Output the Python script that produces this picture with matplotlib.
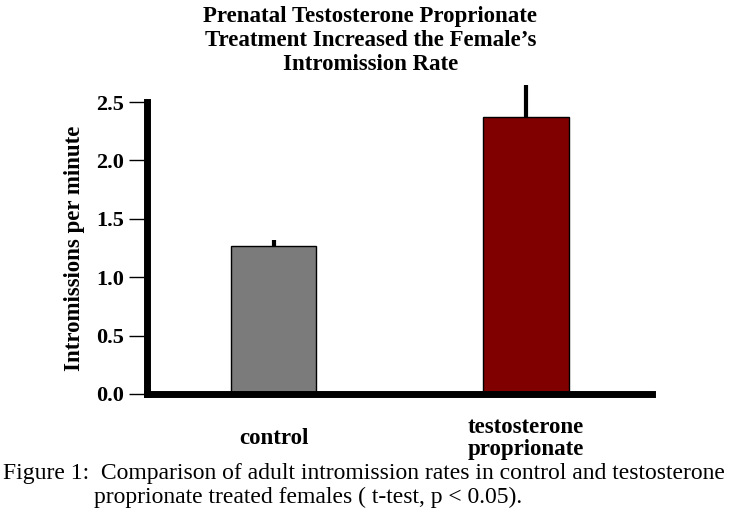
import matplotlib.pyplot as plt
import numpy as np

plt.rcParams['font.family'] = ['Liberation Serif', 'DejaVu Serif']

groups = ["control", "testosterone\nproprionate"]
means = [1.27, 2.37]
sems = [0.05, 0.28]
colors = ["#7b7b7b", "#800000"]
yticks = [0.0, 0.5, 1.0, 1.5, 2.0, 2.5]

fig = plt.figure(figsize=(7.48, 5.14), dpi=100)
ax = fig.add_axes([0.197, 0.2335, 0.675, 0.568])

x = np.arange(len(groups))
ax.bar(x, means, width=0.337, color=colors, edgecolor="black", linewidth=1, zorder=2)
# only the upper half of the error bar is shown
eb = ax.errorbar(x, means, yerr=[np.zeros(len(sems)), sems], fmt="none",
                 ecolor="black", elinewidth=3, capsize=0, zorder=1)
for c in eb.lines[2]:
    c.set_clip_on(False)

ax.set_xlim(-0.5, 1.5)
ax.set_ylim(0, 2.5)
ax.set_yticks(yticks)
ax.set_yticklabels([f"{v:.1f}" for v in yticks], fontsize=16, fontweight="bold")
ax.set_xticks(x)
ax.set_xticklabels(groups, fontsize=16.5, fontweight="bold", linespacing=1.08)
for lbl in ax.get_xticklabels():
    lbl.set_verticalalignment("center")
ax.tick_params(axis="x", length=0, pad=32)
ax.tick_params(axis="y", length=13, width=1, pad=4, direction="out")

for s in ["top", "right"]:
    ax.spines[s].set_visible(False)
for s in ["left", "bottom"]:
    ax.spines[s].set_linewidth(5)
    ax.spines[s].set_capstyle("projecting")

ax.set_ylabel("Intromissions per minute", fontsize=16.5, fontweight="bold", labelpad=8)

fig.text(0.495, 1 - 40.5 / 514, "Prenatal Testosterone Proprionate\nTreatment Increased the Female\u2019s\nIntromission Rate",
         ha="center", va="center", fontsize=16.5, fontweight="bold", linespacing=1.2)

fig.text(0.004, 1 - 474 / 514, "Figure 1:  Comparison of adult intromission rates in control and testosterone",
         ha="left", va="center", fontsize=17)
fig.text(94 / 748, 1 - 497 / 514, "proprionate treated females ( t-test, p < 0.05).",
         ha="left", va="center", fontsize=17)

fig.savefig("out.png", dpi=100)
